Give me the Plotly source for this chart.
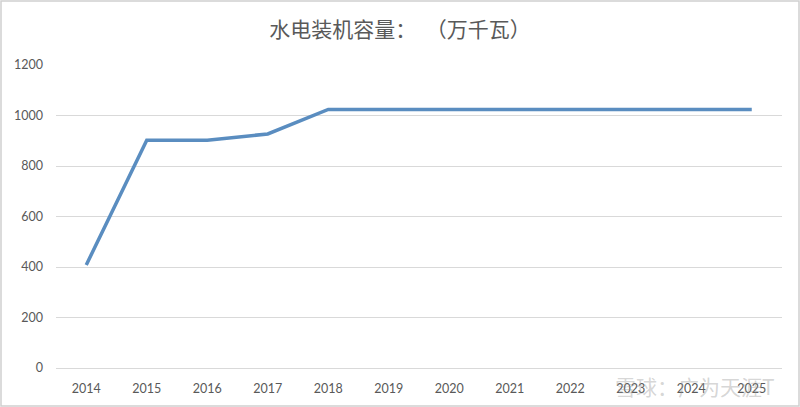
import plotly.graph_objects as go

years = ["2014", "2015", "2016", "2017", "2018", "2019", "2020", "2021", "2022", "2023", "2024", "2025"]
capacity = [408, 902, 902, 927, 1024, 1024, 1024, 1024, 1024, 1024, 1024, 1024]
y_ticks = [0, 200, 400, 600, 800, 1000, 1200]

fig = go.Figure()
fig.add_trace(go.Scatter(
    x=years, y=capacity, mode="lines",
    line=dict(color="#5A8DC0", width=3.5),
    showlegend=False, hoverinfo="x+y",
))

fig.update_layout(
    width=800, height=407,
    margin=dict(l=56, r=18, t=65, b=39),
    paper_bgcolor="white", plot_bgcolor="white",
    title=dict(text="水电装机容量：  （万千瓦）", x=0.5, xanchor="center", y=0.928, yanchor="middle",
               font=dict(family="Noto Sans CJK SC", size=21, color="#595959")),
    font=dict(family="Lato", size=12, color="#595959"),
)
fig.update_xaxes(type="category", range=[-0.5, len(years) - 0.5], showgrid=False, showline=True,
                 linecolor="#D9D9D9", linewidth=1, ticks="", ticklabelstandoff=9,
                 tickfont=dict(family="Lato", size=12.5, color="#595959"))
fig.update_yaxes(range=[0, 1200], tickvals=y_ticks, showgrid=True, gridcolor="#D9D9D9", gridwidth=1,
                 zeroline=False, showline=False, ticks="", ticklabelstandoff=12,
                 tickfont=dict(family="Lato", size=12.5, color="#595959"))

# outer frame
fig.add_shape(type="rect", xref="paper", yref="paper",
              x0=-55/726, x1=1 + 17/726, y0=-38/303, y1=1 + 64/303,
              line=dict(color="#D0D0D0", width=1.5), fillcolor="rgba(0,0,0,0)", layer="below")

# watermark
fig.add_annotation(text="雪球：广为天涯T", xref="paper", yref="paper", x=0.993, y=-0.058,
                   xanchor="right", yanchor="middle", showarrow=False,
                   font=dict(family="Noto Sans CJK SC", size=21, color="rgba(150,150,150,0.4)"))

fig.write_html("out.html", config={"displayModeBar": False})

# remove the browser's default body margin so the figure sits at the window's top-left
with open("out.html", "r", encoding="utf-8") as f:
    html = f.read()
html = html.replace("<body>", '<body style="margin:0;padding:0;overflow:hidden">', 1)
with open("out.html", "w", encoding="utf-8") as f:
    f.write(html)
